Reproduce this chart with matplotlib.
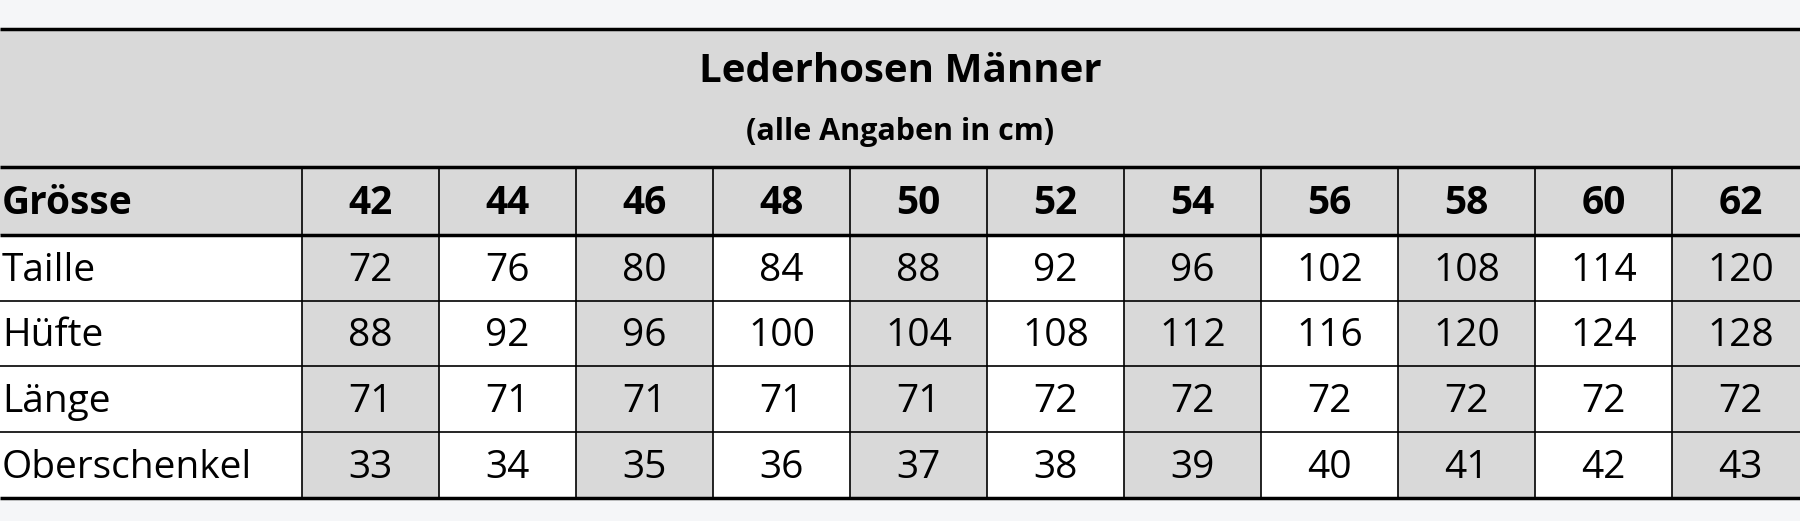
import matplotlib.pyplot as plt
from matplotlib.patches import Rectangle

title = "Lederhosen Männer"
subtitle = "(alle Angaben in cm)"
header_label = "Grösse"
sizes = [42, 44, 46, 48, 50, 52, 54, 56, 58, 60, 62]
row_labels = ["Taille", "Hüfte", "Länge", "Oberschenkel"]
taille = [72, 76, 80, 84, 88, 92, 96, 102, 108, 114, 120]
huefte = [88, 92, 96, 100, 104, 108, 112, 116, 120, 124, 128]
laenge = [71, 71, 71, 71, 71, 72, 72, 72, 72, 72, 72]
oberschenkel = [33, 34, 35, 36, 37, 38, 39, 40, 41, 42, 43]
rows = [taille, huefte, laenge, oberschenkel]

W, H = 1800, 521
GRAY = "#d9d9d9"
plt.rcParams['font.family'] = ['Open Sans', 'DejaVu Sans']

fig = plt.figure(figsize=(W / 100, H / 100), dpi=100)
fig.patch.set_facecolor("#f5f6f8")
ax = fig.add_axes([0, 0, 1, 1])
ax.set_xlim(0, W)
ax.set_ylim(H, 0)
ax.axis("off")

top, title_bot, head_bot, bottom = 29, 167, 235, 498
row_edges = [235, 301, 366, 432, 498]
label_w, col_w = 302, 137
right = label_w + col_w * len(sizes)

# backgrounds
ax.add_patch(Rectangle((0, top), right, head_bot - top, color=GRAY, lw=0))
ax.add_patch(Rectangle((0, head_bot), right, bottom - head_bot, color="white", lw=0))
for i in range(len(sizes)):
    if i % 2 == 0:
        x0 = label_w + i * col_w
        ax.add_patch(Rectangle((x0, head_bot), col_w, bottom - head_bot, color=GRAY, lw=0))

# lines
for y in [top, title_bot, head_bot, bottom]:
    ax.plot([0, right], [y, y], color="black", lw=2.5, solid_capstyle="butt")
for y in row_edges[1:-1]:
    ax.plot([0, right], [y, y], color="black", lw=1.2)
for i in range(len(sizes) + 1):
    x = label_w + i * col_w
    ax.plot([x, x], [title_bot, bottom], color="black", lw=1.2)

# text
ax.text(900, 72, title, ha="center", va="center", fontsize=29, fontweight="bold")
ax.text(900, 132, subtitle, ha="center", va="center", fontsize=22, fontweight="bold")
hy = (title_bot + head_bot) / 2 + 3
ax.text(2, hy, header_label, ha="left", va="center", fontsize=28, fontweight="bold")
for i, s in enumerate(sizes):
    ax.text(label_w + (i + 0.5) * col_w, hy, str(s),
            ha="center", va="center", fontsize=28, fontweight="bold")
for r, (lab, vals) in enumerate(zip(row_labels, rows)):
    yc = (row_edges[r] + row_edges[r + 1]) / 2 + 3
    ax.text(2, yc, lab, ha="left", va="center", fontsize=28)
    for i, v in enumerate(vals):
        ax.text(label_w + (i + 0.5) * col_w, yc, str(v), ha="center", va="center", fontsize=28)

fig.savefig("out.png", dpi=100, facecolor=fig.get_facecolor())
